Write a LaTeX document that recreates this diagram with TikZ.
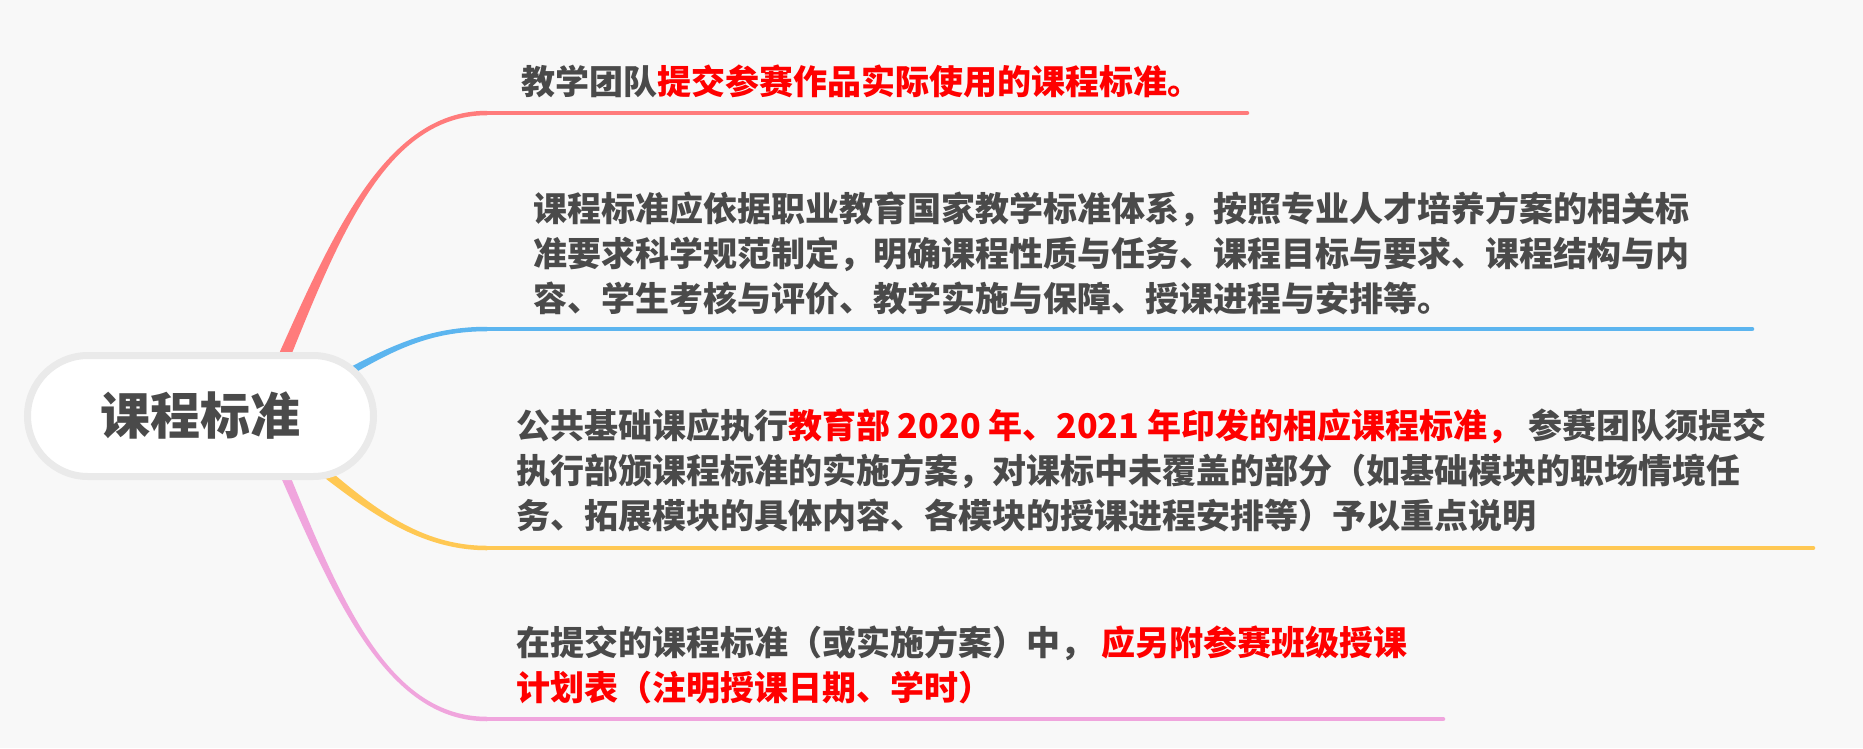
\documentclass[tikz,border=0pt]{standalone}
\usepackage{fontspec}
\setmainfont{Noto Sans CJK SC}
\usetikzlibrary{calc,shapes.misc}
\definecolor{paper}{HTML}{F8F8F8}
\definecolor{inkgray}{HTML}{4A4A4A}
\definecolor{hotred}{HTML}{FF0000}
\definecolor{redbr}{HTML}{FF7B7B}
\definecolor{bluebr}{HTML}{5CB5EF}
\definecolor{yellowbr}{HTML}{FFC853}
\definecolor{pinkbr}{HTML}{F0A5DD}
\definecolor{rimgray}{HTML}{EAEAEA}

\begin{document}
\begin{tikzpicture}[x=1pt,y=-1pt,
  note/.style={anchor=west,inner sep=0,align=left,text=inkgray,
    font=\bfseries\fontsize{34}{45}\selectfont},
  twig/.style={line width=4.5,line cap=round}]
\fill[paper] (0,0) rectangle (1863,748);
\useasboundingbox (0,0) rectangle (1863,748);

% branch ends
\coordinate (redA) at (270,390);
\coordinate (redP) at (330,250);
\coordinate (redQ) at (380,113);
\coordinate (redB) at (487,113);
\coordinate (redE) at (1247,113);
\coordinate (blueA) at (320,388);
\coordinate (blueP) at (380,355);
\coordinate (blueQ) at (420,329);
\coordinate (blueB) at (487,329);
\coordinate (blueE) at (1752,329);
\coordinate (yelA) at (310,460);
\coordinate (yelP) at (370,510);
\coordinate (yelQ) at (420,548);
\coordinate (yelB) at (487,548);
\coordinate (yelE) at (1813,548);
\coordinate (pinkA) at (270,440);
\coordinate (pinkP) at (330,580);
\coordinate (pinkQ) at (380,719);
\coordinate (pinkB) at (487,719);
\coordinate (pinkE) at (1443,719);

% tapered curves
\fill[redbr] ($(redA)+(6,2.6)$) .. controls ($(redP)+(3.6,1.6)$) and ($(redQ)+(0,2.25)$) .. ($(redB)+(0,2.25)$)
  -- ($(redB)+(0,-2.25)$) .. controls ($(redQ)+(0,-2.25)$) and ($(redP)+(-3.6,-1.6)$) .. ($(redA)+(-6,-2.6)$) -- cycle;
\fill[bluebr] ($(blueA)+(2.2,3.9)$) .. controls ($(blueP)+(1.4,2.4)$) and ($(blueQ)+(0,2.25)$) .. ($(blueB)+(0,2.25)$)
  -- ($(blueB)+(0,-2.25)$) .. controls ($(blueQ)+(0,-2.25)$) and ($(blueP)+(-1.4,-2.4)$) .. ($(blueA)+(-2.2,-3.9)$) -- cycle;
\fill[yellowbr] ($(yelA)+(-3.2,3.8)$) .. controls ($(yelP)+(-2,2.3)$) and ($(yelQ)+(0,2.25)$) .. ($(yelB)+(0,2.25)$)
  -- ($(yelB)+(0,-2.25)$) .. controls ($(yelQ)+(0,-2.25)$) and ($(yelP)+(2,-2.3)$) .. ($(yelA)+(3.2,-3.8)$) -- cycle;
\fill[pinkbr] ($(pinkA)+(-4.6,2)$) .. controls ($(pinkP)+(-2.8,1.2)$) and ($(pinkQ)+(0,2.25)$) .. ($(pinkB)+(0,2.25)$)
  -- ($(pinkB)+(0,-2.25)$) .. controls ($(pinkQ)+(0,-2.25)$) and ($(pinkP)+(2.8,-1.2)$) .. ($(pinkA)+(4.6,-2)$) -- cycle;

% underlines
\draw[redbr,twig] (redB) -- (redE);
\draw[bluebr,twig] (blueB) -- (blueE);
\draw[yellowbr,twig] (yelB) -- (yelE);
\draw[pinkbr,twig] (pinkB) -- (pinkE);

\node[rounded rectangle,draw=rimgray,line width=7,fill=white,minimum width=346,minimum height=121,
  inner sep=0,text=inkgray,font=\bfseries\fontsize{50}{60}\selectfont] (root) at (200.5,416) {课程标准};

\node[note] (aim) at (521,81) {教学团队{\color{hotred}提交参赛作品实际使用的课程标准。}};
\node[note] (basis) at (533,253) {课程标准应依据职业教育国家教学标准体系，按照专业人才培养方案的相关标\\准要求科学规范制定，明确课程性质与任务、课程目标与要求、课程结构与内\\容、学生考核与评价、教学实施与保障、授课进程与安排等。};
\node[note] (public) at (516,470) {公共基础课应执行{\color{hotred}教育部 2020 年、2021 年印发的相应课程标准，} 参赛团队须提交\\执行部颁课程标准的实施方案，对课标中未覆盖的部分（如基础模块的职场情境任\\务、拓展模块的具体内容、各模块的授课进程安排等）予以重点说明};
\node[note] (plan) at (516,665) {在提交的课程标准（或实施方案）中， {\color{hotred}应另附参赛班级授课}\\{\color{hotred}计划表（注明授课日期、学时）}};
\end{tikzpicture}
\end{document}
